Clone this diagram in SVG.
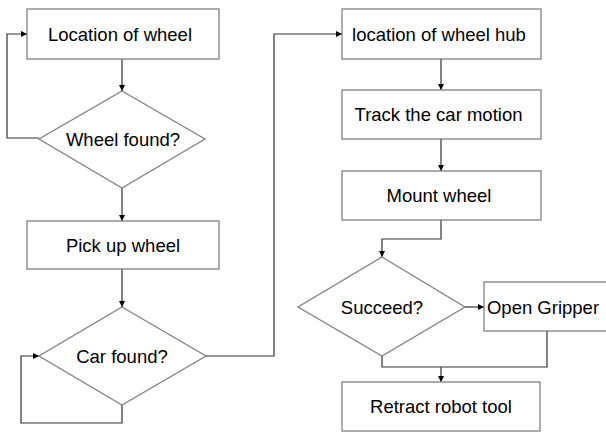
<svg xmlns="http://www.w3.org/2000/svg" width="606" height="432" viewBox="0 0 606 432">
<style>
.box{fill:#fff;stroke:#808080;stroke-width:1.3}
.t{font-family:"Liberation Sans",Arial,sans-serif;font-size:18.5px;fill:#000;text-anchor:middle}
.c{fill:none;stroke:#333;stroke-width:1.2}
</style>
<defs>
<marker id="ah" viewBox="0 0 10 10" refX="10" refY="5" markerWidth="6" markerHeight="6" markerUnits="userSpaceOnUse" orient="auto">
<path d="M0,0 L10,5 L0,10 Z" fill="#000"/>
</marker>
</defs>
<rect width="606" height="432" fill="#fff"/>
<g id="connectors">
<path class="c" d="M122,59 V91" marker-end="url(#ah)"/>
<path class="c" d="M39,138 H7 V34 H27" marker-end="url(#ah)"/>
<path class="c" d="M122,188 V221" marker-end="url(#ah)"/>
<path class="c" d="M122,269 V307" marker-end="url(#ah)"/>
<path class="c" d="M122,405 V423 H21 V356 H39" marker-end="url(#ah)"/>
<path class="c" d="M206,356 H274 V34 H342" marker-end="url(#ah)"/>
<path class="c" d="M441,59 V90" marker-end="url(#ah)"/>
<path class="c" d="M441,139 V171" marker-end="url(#ah)"/>
<path class="c" d="M441,220 V239 H382 V257" marker-end="url(#ah)"/>
<path class="c" d="M465,307 H484" marker-end="url(#ah)"/>
<path class="c" d="M382,356 V367 H547 V331"/>
<path class="c" d="M441,367 V382" marker-end="url(#ah)"/>
</g>
<g id="location_of_wheel">
<rect class="box" x="27" y="9" width="192" height="50"/>
<text class="t" x="120" y="40.5">Location of wheel</text>
</g>
<g id="wheel_found">
<polygon class="box" points="122,91 205,139 122,188 39,139"/>
<text class="t" x="123" y="145.5">Wheel found?</text>
</g>
<g id="pick_up_wheel">
<rect class="box" x="27" y="221" width="192" height="48"/>
<text class="t" x="123" y="251.5">Pick up wheel</text>
</g>
<g id="car_found">
<polygon class="box" points="122,307 206,356 122,405 39,356"/>
<text class="t" x="122" y="362.5">Car found?</text>
</g>
<g id="location_of_wheel_hub">
<rect class="box" x="342" y="9" width="199" height="50"/>
<text class="t" x="439" y="40.5">location of wheel hub</text>
</g>
<g id="track_the_car_motion">
<rect class="box" x="342" y="90" width="199" height="49"/>
<text class="t" x="438.5" y="120.5">Track the car motion</text>
</g>
<g id="mount_wheel">
<rect class="box" x="342" y="171" width="199" height="49"/>
<text class="t" x="439" y="201.5">Mount wheel</text>
</g>
<g id="succeed">
<polygon class="box" points="382,257 465,307 382,356 298,307"/>
<text class="t" x="382" y="313.5">Succeed?</text>
</g>
<g id="open_gripper">
<rect class="box" x="484" y="282" width="130" height="49"/>
<text class="t" x="543" y="313.5">Open Gripper</text>
</g>
<g id="retract_robot_tool">
<rect class="box" x="342" y="382" width="198" height="49"/>
<text class="t" x="441" y="412.5">Retract robot tool</text>
</g>
</svg>
